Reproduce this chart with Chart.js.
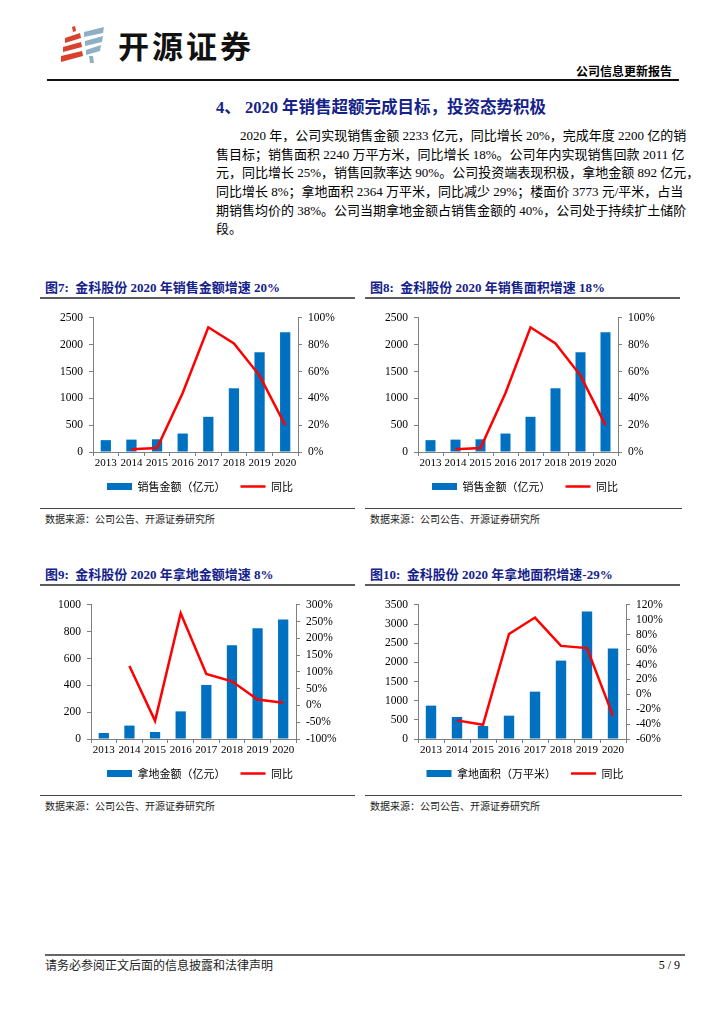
<!DOCTYPE html>
<html lang="zh-CN">
<head>
<meta charset="utf-8">
<title>金科股份 公司信息更新报告</title>
<script src="https://cdn.jsdelivr.net/npm/chart.js@4/dist/chart.umd.min.js"></script>
<style>
  html, body { margin: 0; padding: 0; background: #fff; }
  body {
    width: 724px; height: 1024px; position: relative; overflow: hidden;
    font-family: "Liberation Serif", "Noto Sans CJK SC", serif; color: #000;
  }
  .abs { position: absolute; }
  .brand { left: 118px; top: 26px; font-family: "Noto Sans CJK SC", sans-serif; font-weight: 700;
    font-size: 31px; line-height: 38px; letter-spacing: 3px; color: #111; }
  .doc-type { right: 52px; top: 63px; font-family: "Noto Sans CJK SC", sans-serif; font-weight: 700;
    font-size: 12px; line-height: 16px; }
  .rule-top { left: 47px; top: 79px; width: 632px; height: 2px; background: #111; }
  .heading { left: 216px; top: 98px; font-weight: 700; font-size: 16.5px; line-height: 20px; color: #14228a; white-space: nowrap; }
  .para { left: 216px; top: 127px; width: 466px; font-size: 13px; }
  .para div { height: 18.7px; line-height: 18.7px; text-align: justify; text-align-last: justify; white-space: nowrap; }
  .para div.first { padding-left: 24px; }
  .para div.last { text-align-last: left; }
  .fig-title { height: 18px; line-height: 18px; font-weight: 700; font-size: 13px; color: #14228a;
    border-bottom: 2px solid #5b5b5b; padding-left: 5px; white-space: nowrap; }
  .source { border-top: 1.5px solid #444; padding: 3px 0 0 5px; font-family: "Noto Sans CJK SC", sans-serif;
    font-size: 10px; line-height: 14px; color: #222; }
  .chart-box { position: absolute; width: 320px; }
  .footer-rule { left: 45px; top: 954px; width: 640px; height: 2px; background: #666; }
  .footer { left: 45px; top: 957px; font-family: "Noto Sans CJK SC", sans-serif; font-size: 12px; line-height: 16px; color: #222; }
  .page { right: 44px; top: 957px; font-size: 12px; line-height: 16px; }
</style>
</head>
<body>

<svg class="abs" style="left:61px;top:26px" width="44" height="38" viewBox="0 0 44 38">
  <g fill="#d8412c">
    <polygon points="11,1 14,0 15,5 12,6"/>
    <polygon points="4,12 19,7 20,12 4,17"/>
    <polygon points="2,21 20,16 21,21 2,26"/>
    <polygon points="0,30 21,25 22,30 0,36"/>
  </g>
  <g fill="#8fb0c4">
    <polygon points="23,6 43,1 42,7 23,11"/>
    <polygon points="24,15 42,10 41,16 24,20"/>
    <polygon points="25,24 40,19 39,25 25,29"/>
    <polygon points="28,30 32,30 33,37 29,37"/>
  </g>
</svg>
<div class="abs brand">开源证券</div>
<div class="abs doc-type">公司信息更新报告</div>
<div class="abs rule-top"></div>

<div class="abs heading">4、 2020 年销售超额完成目标，投资态势积极</div>
<div class="abs para">
  <div class="first">2020 年，公司实现销售金额 2233 亿元，同比增长 20%，完成年度 2200 亿的销</div>
  <div>售目标；销售面积 2240 万平方米，同比增长 18%。公司年内实现销售回款 2011 亿</div>
  <div>元，同比增长 25%，销售回款率达 90%。公司投资端表现积极，拿地金额 892 亿元，</div>
  <div>同比增长 8%；拿地面积 2364 万平米，同比减少 29%；楼面价 3773 元/平米，占当</div>
  <div>期销售均价的 38%。公司当期拿地金额占销售金额的 40%，公司处于持续扩土储阶</div>
  <div class="last">段。</div>
</div>

<div class="abs fig-title" style="left:40px;top:279px;width:310px">图7:&nbsp;&nbsp;金科股份 2020 年销售金额增速 20%</div>
<div class="chart-box" style="left:40px;top:305px;height:197px"><canvas id="fig7"></canvas></div>
<div class="abs source" style="left:40px;top:508px;width:310px">数据来源：公司公告、开源证券研究所</div>

<div class="abs fig-title" style="left:365px;top:279px;width:310px">图8:&nbsp;&nbsp;金科股份 2020 年销售面积增速 18%</div>
<div class="chart-box" style="left:365px;top:305px;height:197px"><canvas id="fig8"></canvas></div>
<div class="abs source" style="left:365px;top:508px;width:312px">数据来源：公司公告、开源证券研究所</div>

<div class="abs fig-title" style="left:40px;top:566px;width:310px">图9:&nbsp;&nbsp;金科股份 2020 年拿地金额增速 8%</div>
<div class="chart-box" style="left:40px;top:592px;height:197px"><canvas id="fig9"></canvas></div>
<div class="abs source" style="left:40px;top:795px;width:310px">数据来源：公司公告、开源证券研究所</div>

<div class="abs fig-title" style="left:365px;top:566px;width:310px">图10:&nbsp;&nbsp;金科股份 2020 年拿地面积增速-29%</div>
<div class="chart-box" style="left:365px;top:592px;height:197px"><canvas id="fig10"></canvas></div>
<div class="abs source" style="left:365px;top:795px;width:312px">数据来源：公司公告、开源证券研究所</div>

<div class="abs footer-rule"></div>
<div class="abs footer">请务必参阅正文后面的信息披露和法律声明</div>
<div class="abs page">5 / 9</div>

<script>
// 年份
const years = ['2013', '2014', '2015', '2016', '2017', '2018', '2019', '2020'];

// 销售金额（亿元）及同比（%）
const salesAmount = [221, 231, 237, 344, 656, 1188, 1860, 2233];
const salesAmountYoY = [null, 2, 3, 44, 93, 81, 57, 20];

// 拿地金额（亿元）及同比（%）
const landAmount = [45, 100, 52, 206, 403, 699, 826, 892];
const landAmountYoY = [null, 118, -46, 275, 94, 72, 18, 8];

// 拿地面积（万平米）及同比（%）
const landArea = [871, 575, 340, 609, 1236, 2046, 3326, 2364];
const landAreaYoY = [null, -35, -41, 81, 103, 65, 62, -29];

const barColor = '#0070C0';
const lineColor = '#FF0000';
const axisColor = '#7f7f7f';

Chart.defaults.font.family = '"Liberation Serif", "Noto Sans CJK SC", serif';
Chart.defaults.font.size = 11;
Chart.defaults.color = '#000';

function buildChart(id, barLabel, bars, yoy, left, right, leftW, rightW) {
  const ctx = document.getElementById(id).getContext('2d');
  return new Chart(ctx, {
    type: 'bar',
    data: {
      labels: years,
      datasets: [{
        type: 'bar',
        label: barLabel,
        data: bars,
        yAxisID: 'y',
        backgroundColor: barColor,
        borderWidth: 0,
        barPercentage: 0.4,
        categoryPercentage: 1,
        pointStyle: 'rect',
        order: 1
      }, {
        type: 'line',
        label: '同比',
        data: yoy,
        yAxisID: 'y1',
        borderColor: lineColor,
        backgroundColor: lineColor,
        borderWidth: 2.5,
        pointRadius: 0,
        pointStyle: 'line',
        tension: 0,
        order: 0
      }]
    },
    options: {
      responsive: true,
      maintainAspectRatio: false,
      animation: false,
      layout: { padding: { top: 12, left: 0, right: 0, bottom: 0 } },
      plugins: {
        tooltip: { enabled: false },
        legend: {
          position: 'bottom',
          labels: {
            usePointStyle: true,
            pointStyleWidth: 25,
            boxHeight: 7,
            padding: 15,
            font: { family: '"Noto Sans CJK SC", sans-serif', size: 11 },
            sort: (a, b) => a.datasetIndex - b.datasetIndex
          }
        }
      },
      scales: {
        x: {
          grid: { offset: true, drawOnChartArea: false, tickLength: 4, color: axisColor },
          border: { color: axisColor },
          ticks: { padding: 1, maxRotation: 0, autoSkip: false, font: { size: 11 } },
          afterFit: s => { s.height = 14; }
        },
        y: {
          position: 'left',
          min: left.min, max: left.max,
          ticks: { stepSize: left.step, autoSkip: false, padding: 6, font: { size: 11.5 }, callback: v => String(v) },
          grid: { drawOnChartArea: false, tickLength: 4, color: axisColor },
          border: { color: axisColor },
          afterFit: s => { s.width = leftW; }
        },
        y1: {
          position: 'right',
          min: right.min, max: right.max,
          ticks: { stepSize: right.step, autoSkip: false, padding: 6, font: { size: 11.5 }, callback: v => v + '%' },
          grid: { drawOnChartArea: false, tickLength: 4, color: axisColor },
          border: { color: axisColor },
          afterFit: s => { s.width = rightW; }
        }
      }
    }
  });
}

buildChart('fig7', '销售金额（亿元）', salesAmount, salesAmountYoY,
  { min: 0, max: 2500, step: 500 }, { min: 0, max: 100, step: 20 }, 53, 62);
buildChart('fig8', '销售金额（亿元）', salesAmount, salesAmountYoY,
  { min: 0, max: 2500, step: 500 }, { min: 0, max: 100, step: 20 }, 53, 67);
buildChart('fig9', '拿地金额（亿元）', landAmount, landAmountYoY,
  { min: 0, max: 1000, step: 200 }, { min: -100, max: 300, step: 50 }, 51, 64);
buildChart('fig10', '拿地面积（万平米）', landArea, landAreaYoY,
  { min: 0, max: 3500, step: 500 }, { min: -60, max: 120, step: 20 }, 53, 59);
</script>
</body>
</html>
